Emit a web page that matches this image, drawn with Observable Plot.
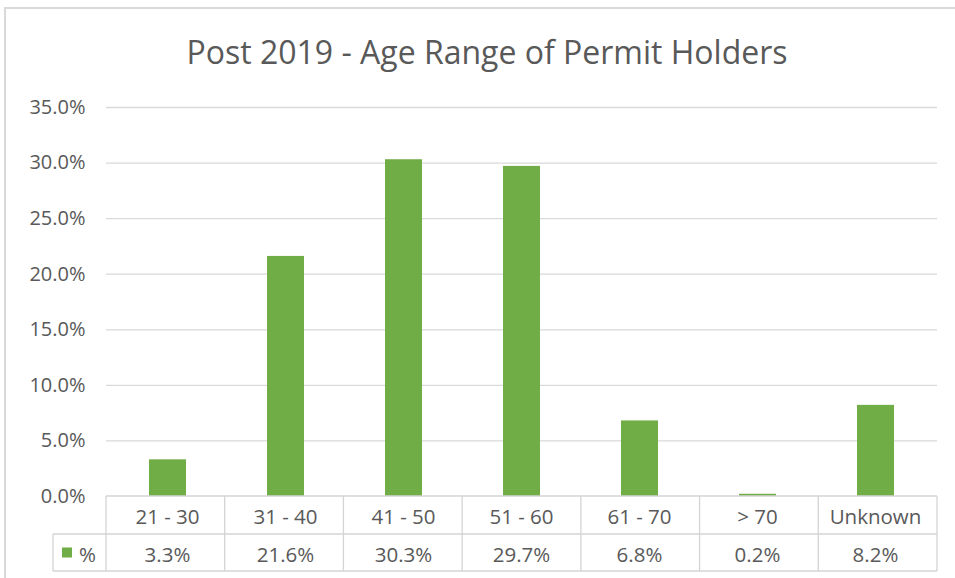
<!DOCTYPE html>
<html><head><meta charset="utf-8">
<script src="https://cdn.jsdelivr.net/npm/d3@7"></script>
<script src="https://cdn.jsdelivr.net/npm/@observablehq/plot@0.6"></script>
<style>
body{margin:0;background:#fff;font-family:"Open Sans",sans-serif;}
#wrap{position:relative;width:955px;height:578px;overflow:hidden;background:#fff;}
#frame{position:absolute;left:4px;top:7px;width:1000px;height:1000px;border:2px solid #d9d9d9;box-sizing:border-box;pointer-events:none}
#title{height:90px;box-sizing:border-box;padding-top:37px;padding-left:19px;text-align:center;font-size:32px;color:#595959;line-height:30px;white-space:nowrap;}
#chart svg{display:block;}
</style></head><body>
<div id="wrap"><div id="frame"></div><div id="title"></div><div id="chart"></div></div>
<script>
const chartTitle = "Post 2019 - Age Range of Permit Holders";
const categories = ["21 - 30", "31 - 40", "41 - 50", "51 - 60", "61 - 70", "> 70", "Unknown"];
const values = [3.3, 21.6, 30.3, 29.7, 6.8, 0.2, 8.2];
const valueLabels = ["3.3%", "21.6%", "30.3%", "29.7%", "6.8%", "0.2%", "8.2%"];
const yTicks = [0, 5, 10, 15, 20, 25, 30, 35];
const seriesName = "%";

const green = "#70AD47";
const textColor = "#595959";
const gridColor = "#d9d9d9";
const tableColor = "#d4d4d4";

document.getElementById("title").textContent = chartTitle;

const data = categories.map((c, i) => ({cat: c, value: values[i], label: valueLabels[i]}));

function dataTable(index, scales, vals, dims) {
  const left = dims.marginLeft;
  const right = dims.width - dims.marginRight;
  const n = categories.length;
  const colW = (right - left) / n;
  const y0 = scales.y(0);
  const r1 = y0 + 38, r2 = y0 + 75;
  const legendLeft = left - 53;
  const g = d3.create("svg:g").attr("text-anchor", "middle");
  const line = (x1, y1, x2, y2) => g.append("line").attr("x1", x1).attr("y1", y1).attr("x2", x2).attr("y2", y2)
    .attr("stroke", tableColor).attr("stroke-width", 1.3);
  line(left, y0, right, y0);
  line(legendLeft, r1, right, r1);
  line(legendLeft, r2, right, r2);
  line(legendLeft, r1, legendLeft, r2);
  for (let i = 0; i <= n; i++) line(left + i * colW, y0, left + i * colW, r2);
  categories.forEach((c, i) => {
    const cx = scales.x(c) + scales.x.bandwidth() / 2;
    g.append("text").attr("x", cx).attr("y", (y0 + r1) / 2 + 1).attr("text-anchor", "middle")
      .attr("dominant-baseline", "central").attr("fill", textColor).attr("font-size", 20.5).text(c);
    g.append("text").attr("x", cx).attr("y", (r1 + r2) / 2 + 1).attr("text-anchor", "middle")
      .attr("dominant-baseline", "central").attr("fill", textColor).attr("font-size", 20.5).text(valueLabels[i]);
  });
  g.append("rect").attr("x", legendLeft + 9).attr("y", (r1 + r2) / 2 - 5).attr("width", 10).attr("height", 10).attr("fill", green);
  g.append("text").attr("x", legendLeft + 26).attr("y", (r1 + r2) / 2 + 1).attr("dominant-baseline", "central")
    .attr("text-anchor", "start").attr("fill", textColor).attr("font-size", 20.5).text(seriesName);
  return g.node();
}

const plot = Plot.plot({
  width: 955,
  height: 488,
  marginTop: 17,
  marginBottom: 82,
  marginLeft: 106,
  marginRight: 18,
  style: {fontFamily: "Open Sans", fontSize: "20px", color: textColor, background: "transparent"},
  x: {domain: categories, paddingInner: 0.69, paddingOuter: 0.345, axis: null},
  y: {domain: [0, 35], axis: null},
  marks: [
    Plot.ruleY(yTicks.filter(t => t > 0), {stroke: gridColor, strokeWidth: 1.3}),
    Plot.axisY(yTicks, {tickSize: 0, tickPadding: 21, tickFormat: d => d.toFixed(1) + "%", fill: textColor, fontSize: 20, label: null}),
    Plot.barY(data, {x: "cat", y: "value", fill: green}),
    dataTable
  ]
});
document.getElementById("chart").appendChild(plot);
</script>
</body></html>
